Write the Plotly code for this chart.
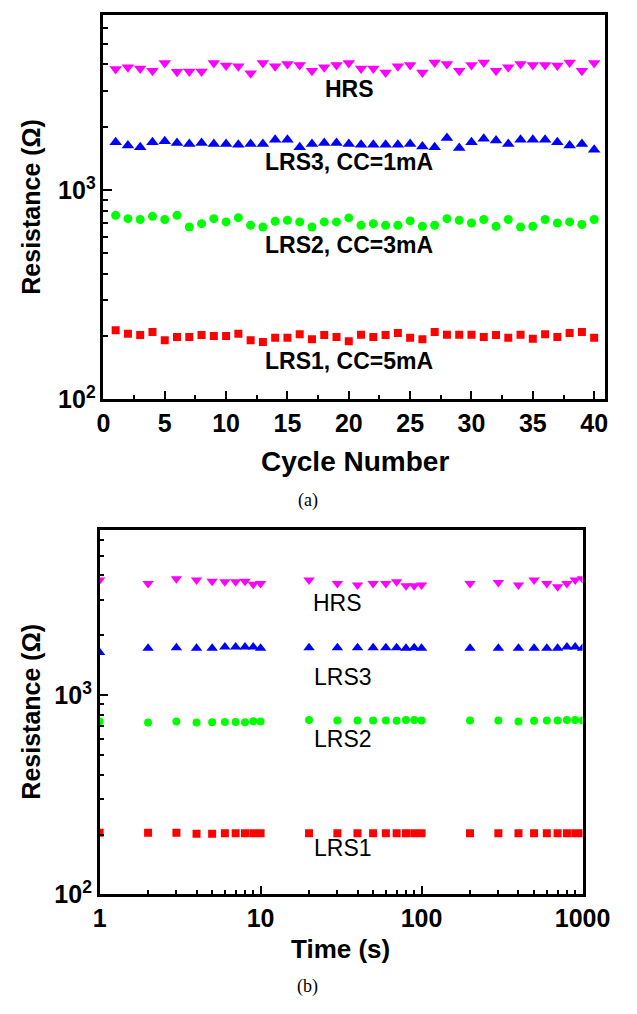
import plotly.graph_objects as go

W, H = 637, 1014

# ---------------- data: panel (a) ----------------
cycles = list(range(1, 41))
hrs_a = [3800, 3875, 3830, 3730, 4060, 3690, 3700, 3700, 4060, 3950,
         3920, 3630, 4060, 3920, 4015, 3980, 3730, 3875, 3980, 4060,
         3830, 3830, 3660, 3920, 3980, 3660, 4090, 4015, 3730, 3980,
         4090, 3730, 3875, 4015, 3980, 3980, 3950, 4090, 3730, 4060]
lrs3_a = [1700, 1640, 1605, 1700, 1715, 1683, 1664, 1683, 1664, 1664,
          1652, 1664, 1664, 1746, 1746, 1605, 1664, 1683, 1683, 1664,
          1652, 1652, 1652, 1652, 1664, 1622, 1605, 1778, 1592, 1700,
          1765, 1730, 1664, 1746, 1746, 1746, 1700, 1640, 1664, 1565]
lrs2_a = [759, 732, 725, 751, 725, 759, 668, 693, 732, 706,
          740, 681, 668, 711, 719, 706, 668, 706, 706, 738,
          681, 693, 681, 681, 714, 673, 681, 732, 719, 698,
          725, 673, 725, 668, 673, 725, 698, 706, 686, 725]
lrs1_a = [214, 206, 203, 210, 192, 199, 199, 203, 201, 201,
          206, 192, 188, 197, 197, 205, 194, 203, 199, 190,
          204, 199, 203, 208, 197, 194, 210, 204, 204, 204,
          199, 203, 197, 204, 195, 205, 199, 208, 210, 197]
labels_a = ["HRS", "LRS3, CC=1mA", "LRS2, CC=3mA", "LRS1, CC=5mA"]

# ---------------- data: panel (b) ----------------
time_s = [1, 2, 3, 4, 5, 6, 7, 8, 9, 10,
          20, 30, 40, 50, 60, 70, 80, 90, 100,
          200, 300, 400, 500, 600, 700, 800, 900, 1000]
hrs_b = [3785, 3640, 3850, 3785, 3740, 3710, 3710, 3740, 3612, 3640,
         3785, 3640, 3573, 3640, 3640, 3710, 3543, 3543, 3573,
         3640, 3680, 3573, 3785, 3640, 3505, 3640, 3785, 3850]
lrs3_b = [1640, 1722, 1734, 1722, 1722, 1746, 1746, 1746, 1746, 1722,
          1734, 1734, 1734, 1734, 1734, 1734, 1722, 1734, 1722,
          1722, 1722, 1722, 1722, 1722, 1722, 1746, 1746, 1722]
lrs2_b = [738, 730, 738, 730, 733, 735, 735, 733, 740, 738,
          752, 746, 746, 746, 746, 744, 752, 752, 746,
          746, 746, 738, 744, 746, 746, 752, 752, 746]
lrs1_b = [204, 204, 204, 202, 202, 203, 203, 203, 203, 203,
          203, 203, 203, 203, 203, 203, 203, 203, 203,
          203, 203, 203, 203, 203, 203, 203, 203, 203]
labels_b = ["HRS", "LRS3", "LRS2", "LRS1"]

y_tickvals = [100, 1000]
y_ticktext = ["<b>10<sup>2</sup></b>", "<b>10<sup>3</sup></b>"]
y_minor = [200, 300, 400, 500, 600, 700, 800, 900, 2000, 3000, 4000, 5000, 6000, 7000]
x_minor_b = [2, 3, 4, 5, 6, 7, 8, 9, 20, 30, 40, 50, 60, 70, 80, 90, 200, 300, 400, 500, 600, 700, 800, 900]

MAGENTA, BLUE, GREEN, RED = "#FF00FF", "#0000FF", "#00FF00", "#FF0000"
FONT = "Liberation Sans, Arial, sans-serif"

fig = go.Figure()

def add(x, y, sym, size, color, xa, ya):
    fig.add_trace(go.Scatter(x=x, y=y, mode="markers", xaxis=xa, yaxis=ya,
                             marker=dict(symbol=sym, size=size, color=color,
                                         line=dict(width=0)),
                             showlegend=False, cliponaxis=True))

add(cycles, hrs_a, "triangle-down", 11, MAGENTA, "x", "y")
add(cycles, lrs3_a, "triangle-up", 11, BLUE, "x", "y")
add(cycles, lrs2_a, "circle", 9, GREEN, "x", "y")
add(cycles, lrs1_a, "square", 8, RED, "x", "y")

add(time_s, hrs_b, "triangle-down", 10, MAGENTA, "x2", "y2")
add(time_s, lrs3_b, "triangle-up", 10, BLUE, "x2", "y2")
add(time_s, lrs2_b, "circle", 8, GREEN, "x2", "y2")
add(time_s, lrs1_b, "square", 8, RED, "x2", "y2")

def px(xp, yp):
    return xp / W, 1 - yp / H

axis_common = dict(showline=True, linewidth=2.5, linecolor="black", mirror=True,
                   ticks="inside", ticklen=9, tickwidth=2, tickcolor="black",
                   showgrid=False, zeroline=False,
                   tickfont=dict(family=FONT, size=25, color="black", weight="bold"))

fig.update_layout(
    width=W, height=H,
    margin=dict(l=0, r=0, t=0, b=0),
    paper_bgcolor="white", plot_bgcolor="white",
    xaxis=dict(domain=[102 / W, 633 / W], range=[0, 40.9], anchor="y",
               tickmode="linear", tick0=0, dtick=5,
               minor=dict(dtick=2.5, ticks="inside", ticklen=5, tickwidth=2, tickcolor="black"),
               **axis_common),
    yaxis=dict(domain=[1 - 405 / H, 1 - 15 / H], type="log", range=[2, 2 + 390 / 212], anchor="x",
               tickmode="array", tickvals=y_tickvals, ticktext=y_ticktext,
               minor=dict(tickvals=y_minor, ticks="inside", ticklen=5, tickwidth=2, tickcolor="black"),
               **axis_common),
    xaxis2=dict(domain=[98 / W, 609 / W], type="log", range=[0, 3], anchor="y2",
                tickmode="array", tickvals=[1, 10, 100, 1000], ticktext=["1", "10", "100", "1000"],
                minor=dict(tickvals=x_minor_b, ticks="inside", ticklen=5, tickwidth=2, tickcolor="black"),
                **axis_common),
    yaxis2=dict(domain=[1 - 907 / H, 1 - 537 / H], type="log", range=[2, 2 + 370 / 202], anchor="x2",
                tickmode="array", tickvals=y_tickvals, ticktext=y_ticktext,
                minor=dict(tickvals=y_minor, ticks="inside", ticklen=5, tickwidth=2, tickcolor="black"),
                **axis_common),
)

annots = []
def text(s, xp, yp, size, bold=True, family=FONT, angle=0):
    x, y = px(xp, yp)
    annots.append(dict(text=(f"<b>{s}</b>" if bold else s), x=x, y=y, xref="paper", yref="paper",
                       showarrow=False, xanchor="center", yanchor="middle", textangle=angle,
                       font=dict(family=family, size=size, color="black")))

# panel (a) series labels
for s, yp in zip(labels_a, [90, 164, 248, 366]):
    text(s, 362, yp, 23)
# panel (b) series labels
for s, xp, yp in zip(labels_b, [350, 356, 356, 356], [611, 686, 749, 860]):
    text(s, xp, yp, 23, bold=False)

# axis titles
text("Resistance (\u03a9)", 25, 210, 25, angle=-90)
text("Cycle Number", 368, 468, 28)
text("Resistance (\u03a9)", 25, 722, 25, angle=-90)
text("Time (s)", 353, 962, 26)

# captions
text("(a)", 318, 508, 18, bold=False, family="Liberation Serif, Times New Roman, serif")
text("(b)", 318, 1000, 18, bold=False, family="Liberation Serif, Times New Roman, serif")

fig.update_layout(annotations=annots)
fig.write_html("out.html")
